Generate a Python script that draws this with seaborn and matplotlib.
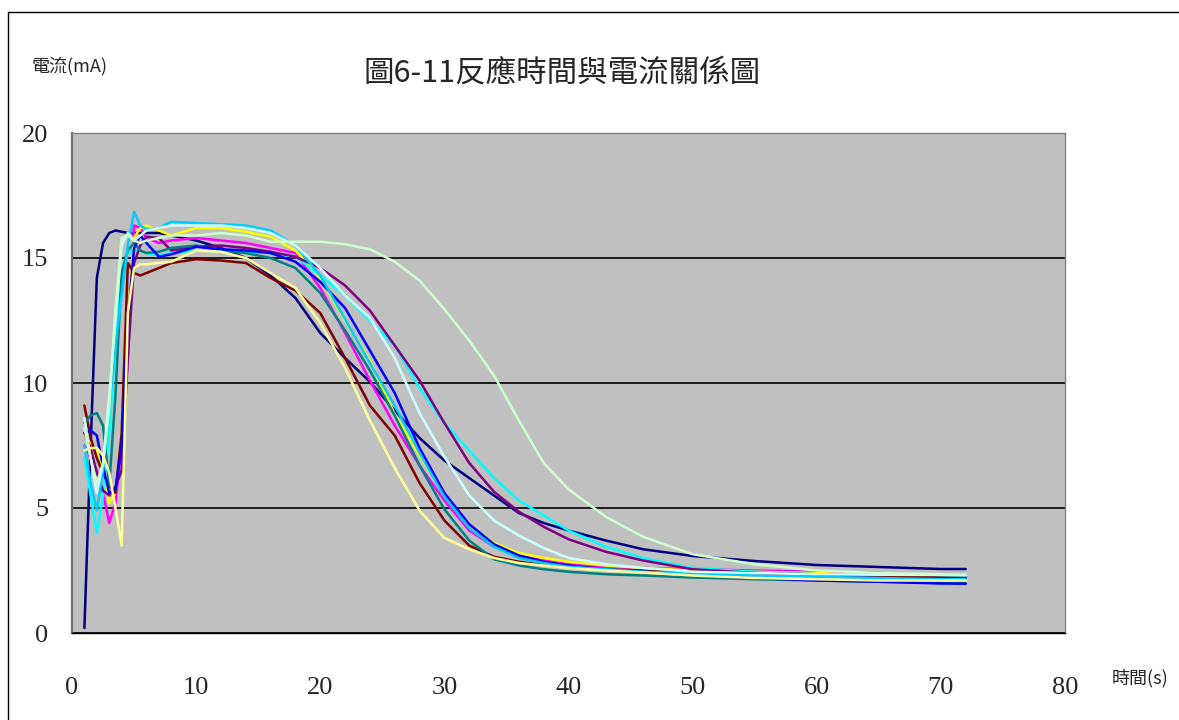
import numpy as np
import pandas as pd
import matplotlib
matplotlib.use("Agg")
import matplotlib.pyplot as plt
from matplotlib.lines import Line2D
import seaborn as sns

sns.set_theme(style="white")
plt.rcParams['font.family'] = ['Noto Sans CJK TC', 'DejaVu Sans']

# time points (s) shared by all runs
t = [1, 1.5, 2, 2.5, 3, 3.5, 4, 4.5, 5, 5.5, 6, 7, 8, 10, 12, 14, 16, 18, 20, 22,
     24, 26, 28, 30, 32, 34, 36, 38, 40, 43, 46, 50, 55, 60, 65, 70, 72]

# current (mA) of each run
navy = [0.2, 7.5, 14.2, 15.6, 16.0, 16.1, 16.05, 16.0, 16.0, 16.0, 16.0, 16.0, 15.9,
        15.7, 15.4, 15.0, 14.3, 13.4, 12.0, 11.0, 10.05, 8.9, 7.8, 6.9, 6.2, 5.5, 4.8, 4.4, 4.1,
        3.7, 3.35, 3.08, 2.88, 2.72, 2.64, 2.56, 2.56]
magenta = [7.5, 7.0, 6.5, 5.6, 4.4, 5.2, 7.5, 11.0, 16.3, 16.2, 15.8, 15.6, 15.7,
           15.8, 15.7, 15.6, 15.4, 15.2, 13.8, 12.0, 10.1, 8.3, 6.7, 5.3, 4.1, 3.45, 3.1, 2.9, 2.75,
           2.65, 2.6, 2.55, 2.5, 2.45, 2.4, 2.3, 2.28]
yellow = [7.9, 7.6, 7.3, 6.6, 5.2, 5.6, 8.0, 12.5, 15.8, 16.2, 16.3, 16.1, 15.9,
          16.2, 16.2, 16.05, 15.85, 15.3, 14.2, 12.5, 10.9, 8.75, 7.1, 5.5, 4.3, 3.6, 3.2, 3.0, 2.85,
          2.7, 2.6, 2.5, 2.45, 2.4, 2.3, 2.2, 2.2]
cyan = [7.0, 5.5, 4.0, 5.5, 8.0, 11.5, 14.5, 15.2, 15.3, 15.3, 15.2, 15.1, 15.2,
        15.3, 15.3, 15.25, 15.2, 15.05, 14.3, 13.5, 12.5, 11.5, 9.8, 8.4, 7.3, 6.2, 5.3, 4.7, 4.1,
        3.45, 3.0, 2.6, 2.45, 2.35, 2.3, 2.25, 2.23]
purple = [8.0, 7.4, 6.4, 5.7, 5.5, 5.85, 6.5, 11.0, 14.8, 15.5, 15.85, 15.8, 15.3,
          15.45, 15.5, 15.4, 15.25, 15.05, 14.6, 13.9, 12.9, 11.5, 10.1, 8.4, 6.8, 5.65, 4.85, 4.25, 3.75,
          3.25, 2.9, 2.55, 2.4, 2.3, 2.25, 2.15, 2.15]
maroon = [9.1, 7.8, 7.0, 6.4, 5.9, 5.6, 8.0, 14.8, 14.4, 14.3, 14.4, 14.6, 14.8,
          14.95, 14.9, 14.8, 14.2, 13.7, 12.8, 11.0, 9.1, 7.9, 6.0, 4.5, 3.5, 3.05, 2.85, 2.72, 2.62,
          2.55, 2.5, 2.45, 2.4, 2.35, 2.3, 2.22, 2.2]
teal = [8.4, 8.7, 8.8, 8.3, 5.9, 9.5, 14.4, 15.3, 15.6, 15.3, 15.2, 15.25, 15.4,
        15.5, 15.3, 15.2, 15.0, 14.6, 13.6, 12.1, 10.5, 8.7, 6.7, 4.95, 3.7, 2.95, 2.7, 2.55, 2.45,
        2.35, 2.3, 2.22, 2.15, 2.1, 2.05, 2.0, 2.0]
blue = [8.0, 8.1, 7.9, 6.65, 5.6, 5.75, 7.45, 12.5, 15.4, 15.9, 15.6, 15.05, 15.15,
        15.45, 15.35, 15.3, 15.2, 14.85, 14.05, 13.0, 11.3, 9.6, 7.4, 5.6, 4.35, 3.55, 3.1, 2.85, 2.7,
        2.55, 2.45, 2.32, 2.2, 2.1, 2.05, 1.98, 1.97]
skyblue = [7.5, 6.0, 4.9, 6.5, 9.0, 11.5, 13.5, 15.5, 16.85, 16.3, 16.15, 16.2, 16.45,
           16.4, 16.35, 16.3, 16.1, 15.5, 14.3, 12.55, 10.8, 9.1, 7.2, 5.45, 4.2, 3.45, 3.0, 2.8, 2.65,
           2.55, 2.45, 2.38, 2.3, 2.25, 2.2, 2.15, 2.15]
lightturq = [8.6, 7.0, 5.6, 6.8, 9.5, 12.5, 15.5, 16.0, 15.7, 15.9, 16.1, 16.2, 16.3,
             16.3, 16.3, 16.2, 16.0, 15.5, 14.6, 13.5, 12.6, 11.0, 8.8, 7.05, 5.5, 4.5, 3.9, 3.4, 3.0,
             2.75, 2.6, 2.45, 2.4, 2.35, 2.33, 2.32, 2.32]
lightgreen = [8.2, 7.0, 6.0, 6.8, 9.0, 13.0, 15.8, 15.9, 15.7, 15.6, 15.7, 15.8, 15.9,
              15.9, 16.0, 15.9, 15.65, 15.65, 15.65, 15.55, 15.35, 14.85, 14.1, 12.95, 11.7, 10.3, 8.5, 6.8, 5.75,
              4.65, 3.85, 3.15, 2.75, 2.5, 2.4, 2.35, 2.32]
lightyellow = [7.3, 7.4, 7.4, 7.1, 6.4, 5.0, 3.5, 12.8, 14.6, 14.75, 14.75, 14.8, 14.85,
               15.3, 15.25, 15.0, 14.4, 13.8, 12.4, 10.6, 8.5, 6.6, 4.9, 3.8, 3.35, 3.0, 2.8, 2.7, 2.6,
               2.5, 2.42, 2.3, 2.2, 2.15, 2.1, 2.1, 2.1]

series = {
    "navy": navy, "magenta": magenta, "yellow": yellow, "cyan": cyan,
    "purple": purple, "maroon": maroon, "teal": teal, "blue": blue,
    "skyblue": skyblue, "lightturq": lightturq, "lightgreen": lightgreen,
    "lightyellow": lightyellow,
}
colors = {
    "navy": "#000080", "magenta": "#FF00FF", "yellow": "#FFFF00", "cyan": "#00FFFF",
    "purple": "#800080", "maroon": "#800000", "teal": "#008080", "blue": "#0000FF",
    "skyblue": "#00CCFF", "lightturq": "#CCFFFF", "lightgreen": "#CCFFCC",
    "lightyellow": "#FFFF99",
}

df = pd.concat([pd.DataFrame({"t": t, "v": vals, "run": name})
                for name, vals in series.items()], ignore_index=True)

fig = plt.figure(figsize=(11.79, 7.2), dpi=100)
ax = fig.add_axes([72 / 1179, 1 - 633 / 720, (1065 - 72) / 1179, (633 - 133) / 720])
ax.set_facecolor("#C0C0C0")

sns.lineplot(data=df, x="t", y="v", hue="run", palette=colors, estimator=None,
             linewidth=1.8, legend=False, ax=ax)

ax.set_xlim(0, 80)
ax.set_ylim(0, 20)
ax.set_xticks(range(0, 81, 10))
ax.set_yticks(range(0, 21, 5))
ax.set_xlabel("")
ax.set_ylabel("")
ax.yaxis.grid(True, color="black", linewidth=1.2)
ax.xaxis.grid(False)
ax.set_axisbelow(True)
ax.tick_params(axis="x", direction="in", length=7, width=1, color="black", pad=32, labelsize=19)
ax.tick_params(axis="y", length=0, pad=17, labelsize=19)
for lbl in ax.get_xticklabels() + ax.get_yticklabels():
    lbl.set_fontfamily("Liberation Serif")

for side in ["top", "right"]:
    ax.spines[side].set_color("#808080")
    ax.spines[side].set_linewidth(1)
ax.spines["left"].set_color("#707070")
ax.spines["left"].set_linewidth(1.6)
ax.spines["bottom"].set_color("black")
ax.spines["bottom"].set_linewidth(1)

cjk = ["Noto Sans CJK TC", "DejaVu Sans"]
fig.text(562 / 1179, 1 - 73 / 720, "圖6-11反應時間與電流關係圖", ha="center", va="center",
         fontsize=22, family=cjk)
fig.text(32 / 1179, 1 - 66 / 720, "電流(mA)", ha="left", va="center", fontsize=13, family=cjk)
fig.text(1112 / 1179, 1 - 678 / 720, "時間(s)", ha="left", va="center", fontsize=13, family=cjk)

# outer chart frame
fig.add_artist(Line2D([8 / 1179, 1], [1 - 12 / 720, 1 - 12 / 720], color="black",
                      linewidth=1, transform=fig.transFigure))
fig.add_artist(Line2D([8 / 1179, 8 / 1179], [0, 1 - 12 / 720], color="black",
                      linewidth=1, transform=fig.transFigure))

fig.savefig("out.png", dpi=100)
